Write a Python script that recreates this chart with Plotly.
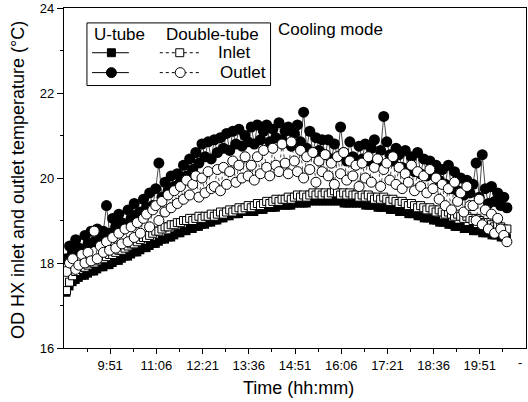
import plotly.graph_objects as go

# Sampling times (minutes after midnight), 5-min interval from 8:40 to 20:35
times = list(range(520, 1240, 5))

u_inlet = [
    17.30, 17.45, 17.55, 17.60, 17.65, 17.70, 17.70, 17.75, 17.80, 17.80, 17.85, 17.90,
    17.90, 17.95, 17.95, 18.00, 18.05, 18.05, 18.10, 18.15, 18.15, 18.20, 18.25, 18.25,
    18.30, 18.35, 18.35, 18.40, 18.45, 18.45, 18.50, 18.55, 18.55, 18.60, 18.60, 18.65,
    18.70, 18.70, 18.75, 18.75, 18.80, 18.80, 18.85, 18.85, 18.90, 18.90, 18.95, 18.95,
    19.00, 19.00, 19.05, 19.05, 19.10, 19.10, 19.15, 19.15, 19.15, 19.20, 19.20, 19.20,
    19.20, 19.20, 19.25, 19.25, 19.25, 19.30, 19.30, 19.30, 19.30, 19.35, 19.35, 19.35,
    19.35, 19.35, 19.40, 19.40, 19.40, 19.40, 19.40, 19.45, 19.45, 19.45, 19.45, 19.45,
    19.45, 19.45, 19.45, 19.45, 19.45, 19.45, 19.40, 19.40, 19.40, 19.40, 19.40, 19.40,
    19.40, 19.35, 19.35, 19.35, 19.35, 19.30, 19.30, 19.30, 19.30, 19.25, 19.25, 19.25,
    19.20, 19.20, 19.20, 19.15, 19.15, 19.15, 19.10, 19.10, 19.05, 19.05, 19.05, 19.00,
    19.00, 18.95, 18.95, 18.95, 18.90, 18.90, 18.85, 18.85, 18.85, 18.80, 18.80, 18.80,
    18.75, 18.75, 18.75, 18.70, 18.70, 18.70, 18.65, 18.65, 18.65, 18.60, 18.60, 18.60,
]

u_outlet = [
    18.10, 18.40, 18.25, 18.55, 18.35, 18.30, 18.65, 18.45, 18.75, 18.50, 18.80, 18.60,
    18.75, 19.35, 18.70, 19.05, 18.85, 19.15, 18.95, 18.90, 19.25, 19.05, 19.40, 19.15,
    19.20, 19.50, 19.30, 19.65, 19.35, 19.75, 20.35, 19.55, 19.90, 19.70, 20.05, 19.80,
    20.10, 19.90, 20.30, 20.05, 20.45, 20.20, 20.60, 20.35, 20.80, 20.50, 20.85, 20.45,
    20.90, 20.60, 20.95, 20.70, 21.05, 20.65, 21.10, 20.80, 21.15, 20.75, 21.00, 20.85,
    21.20, 20.80, 21.25, 20.90, 21.10, 21.25, 20.85, 21.15, 20.95, 21.30, 20.90, 21.10,
    21.20, 20.75, 21.05, 21.25, 20.85, 21.55, 20.70, 21.10, 20.60, 20.95, 20.65, 20.90,
    20.55, 20.90, 20.45, 20.80, 20.50, 21.20, 20.60, 20.40, 20.85, 20.50, 20.35, 20.75,
    20.45, 20.80, 20.40, 20.70, 20.90, 20.35, 20.65, 21.45, 20.85, 20.55, 20.40, 20.70,
    20.55, 20.25, 20.65, 20.20, 20.50, 20.15, 20.60, 20.10, 20.45, 20.05, 20.40, 20.15,
    20.30, 19.95, 20.20, 19.85, 20.30, 19.75, 20.15, 19.70, 20.00, 19.60, 19.95, 19.65,
    19.85, 20.35, 19.55, 20.55, 19.75, 19.40, 19.80, 19.45, 19.65, 19.35, 19.55, 19.30,
]

d_inlet = [
    17.35, 17.55, 17.70, 17.80, 17.85, 17.90, 17.90, 17.95, 18.00, 18.00, 18.05, 18.10,
    18.10, 18.15, 18.20, 18.20, 18.25, 18.30, 18.30, 18.35, 18.40, 18.45, 18.45, 18.50,
    18.55, 18.60, 18.60, 18.65, 18.70, 18.75, 18.75, 18.80, 18.85, 18.85, 18.90, 18.90,
    18.95, 18.95, 19.00, 19.00, 19.05, 19.00, 19.05, 19.10, 19.05, 19.10, 19.10, 19.15,
    19.10, 19.15, 19.20, 19.15, 19.20, 19.25, 19.20, 19.25, 19.30, 19.25, 19.30, 19.35,
    19.30, 19.35, 19.40, 19.35, 19.40, 19.45, 19.40, 19.45, 19.50, 19.45, 19.50, 19.50,
    19.55, 19.50, 19.55, 19.60, 19.55, 19.60, 19.55, 19.60, 19.65, 19.60, 19.65, 19.60,
    19.65, 19.60, 19.65, 19.70, 19.65, 19.60, 19.65, 19.60, 19.65, 19.60, 19.60, 19.55,
    19.60, 19.55, 19.60, 19.55, 19.50, 19.55, 19.50, 19.55, 19.50, 19.45, 19.50, 19.45,
    19.40, 19.45, 19.40, 19.35, 19.40, 19.35, 19.30, 19.35, 19.30, 19.25, 19.30, 19.25,
    19.20, 19.25, 19.20, 19.15, 19.20, 19.15, 19.10, 19.15, 19.10, 19.05, 19.10, 19.05,
    19.00, 19.05, 19.00, 18.95, 18.90, 18.95, 18.90, 18.85, 18.90, 18.85, 18.80, 18.80,
]

d_outlet = [
    17.80, 18.00, 18.10, 17.85, 17.95, 18.20, 18.00, 18.25, 18.05, 18.75, 18.10, 18.40,
    18.25, 18.50, 18.30, 18.60, 18.35, 18.70, 18.45, 18.80, 18.50, 18.85, 18.60, 18.95,
    18.70, 19.05, 19.15, 18.85, 19.25, 19.35, 19.00, 19.45, 19.20, 19.60, 19.30, 19.70,
    19.40, 19.80, 19.50, 19.95, 19.60, 19.85, 20.05, 19.55, 20.00, 19.65, 20.15, 19.75,
    19.80, 20.20, 19.70, 20.25, 19.85, 20.15, 20.40, 19.90, 20.30, 20.00, 20.50, 20.05,
    20.30, 19.95, 20.50, 20.10, 20.65, 20.25, 20.05, 20.70, 20.30, 20.15, 20.80, 20.35,
    20.10, 20.85, 20.40, 20.15, 20.65, 20.00, 20.50, 20.20, 20.60, 19.90, 20.40, 20.15,
    20.55, 20.05, 20.35, 19.85, 20.50, 20.10, 20.60, 19.95, 20.40, 20.05, 20.30, 19.80,
    20.35, 20.00, 20.50, 19.90, 20.25, 20.45, 19.80, 20.20, 20.35, 19.95, 20.50, 19.85,
    20.25, 19.75, 20.10, 19.90, 20.30, 19.70, 20.15, 19.80, 20.05, 19.65, 20.20, 19.75,
    20.00, 19.50, 19.85, 19.35, 19.75, 19.25, 19.90, 19.45, 19.65, 19.20, 19.80, 19.35,
    19.35, 19.00, 19.50, 18.90, 19.25, 18.80, 19.15, 18.70, 19.05, 18.80, 18.65, 18.50,
]

tick_vals = [591, 666, 741, 816, 891, 966, 1041, 1116, 1191]
tick_text = ["9:51", "11:06", "12:21", "13:36", "14:51", "16:06", "17:21", "18:36", "19:51"]
minor_vals = [553.5, 628.5, 703.5, 778.5, 853.5, 928.5, 1003.5, 1078.5, 1153.5, 1228.5]

FONT = "Liberation Sans, Arial, sans-serif"
W, H = 528, 402
L, R, T, B = 64, 1, 6, 54
PW, PH = W - L - R, H - T - B


def px(x):
    return (x - L) / PW


def py(y):
    return (H - B - y) / PH


fig = go.Figure()

fig.add_trace(go.Scatter(
    x=times, y=u_inlet, mode="lines+markers", name="U-tube inlet",
    line=dict(color="black", width=0.7),
    marker=dict(symbol="square", size=8, color="black"),
))
fig.add_trace(go.Scatter(
    x=times, y=u_outlet, mode="lines+markers", name="U-tube outlet",
    line=dict(color="black", width=0.7),
    marker=dict(symbol="circle", size=11, color="black"),
))
fig.add_trace(go.Scatter(
    x=times, y=d_inlet, mode="lines+markers", name="Double-tube inlet",
    line=dict(color="black", width=0.7, dash="dot"),
    marker=dict(symbol="square", size=8, color="white", line=dict(color="black", width=1)),
))
fig.add_trace(go.Scatter(
    x=times, y=d_outlet, mode="lines+markers", name="Double-tube outlet",
    line=dict(color="black", width=0.7, dash="dot"),
    marker=dict(symbol="circle", size=10, color="white", line=dict(color="black", width=1)),
))

shapes = []
# legend box
shapes.append(dict(type="rect", xref="paper", yref="paper",
                   x0=px(87), x1=px(271), y0=py(21), y1=py(84),
                   line=dict(color="black", width=1), fillcolor="white"))
# row 1: inlet
shapes.append(dict(type="line", xref="paper", yref="paper",
                   x0=px(92), x1=px(129), y0=py(51), y1=py(51),
                   line=dict(color="black", width=1)))
shapes.append(dict(type="rect", xref="paper", yref="paper",
                   x0=px(107.5), x1=px(115.5), y0=py(47), y1=py(55),
                   line=dict(color="black", width=1), fillcolor="black"))
shapes.append(dict(type="line", xref="paper", yref="paper",
                   x0=px(160), x1=px(201), y0=py(51), y1=py(51),
                   line=dict(color="black", width=1, dash="dot")))
shapes.append(dict(type="rect", xref="paper", yref="paper",
                   x0=px(176), x1=px(184), y0=py(47), y1=py(55),
                   line=dict(color="black", width=1), fillcolor="white"))
# row 2: outlet
shapes.append(dict(type="line", xref="paper", yref="paper",
                   x0=px(92), x1=px(129), y0=py(71), y1=py(71),
                   line=dict(color="black", width=1)))
shapes.append(dict(type="circle", xref="paper", yref="paper",
                   x0=px(106.5), x1=px(116.5), y0=py(66), y1=py(76),
                   line=dict(color="black", width=1), fillcolor="black"))
shapes.append(dict(type="line", xref="paper", yref="paper",
                   x0=px(160), x1=px(201), y0=py(71), y1=py(71),
                   line=dict(color="black", width=1, dash="dot")))
shapes.append(dict(type="circle", xref="paper", yref="paper",
                   x0=px(175.5), x1=px(185.5), y0=py(66), y1=py(76),
                   line=dict(color="black", width=1), fillcolor="white"))

annotations = []


def txt(text, x, y, size=18, angle=0):
    annotations.append(dict(text=text, xref="paper", yref="paper",
                            x=px(x), y=py(y), xanchor="center", yanchor="middle",
                            showarrow=False, textangle=angle,
                            font=dict(family=FONT, size=size, color="black")))


txt("U-tube", 120, 33, 17)
txt("Double-tube", 213, 33, 17)
txt("Inlet", 234, 51, 17)
txt("Outlet", 243, 71, 17)
txt("Cooling mode", 331, 28, 17)
txt("Time (hh:mm)", 299, 388, 18)
txt("OD HX inlet and outlet temperature (°C)", 18, 179, 18, -90)
txt("-", 521, 363, 13)

fig.update_layout(
    width=W, height=H,
    margin=dict(l=L, r=R, t=T, b=B),
    paper_bgcolor="white", plot_bgcolor="white",
    showlegend=False,
    font=dict(family=FONT, size=13, color="black"),
    shapes=shapes, annotations=annotations,
    xaxis=dict(
        range=[516, 1266], tickmode="array", tickvals=tick_vals, ticktext=tick_text,
        ticks="outside", ticklen=5, tickwidth=1, tickcolor="black",
        showline=True, linecolor="black", linewidth=1.2, mirror=True,
        showgrid=False, zeroline=False, ticklabeloverflow="allow",
        tickfont=dict(family=FONT, size=13),
        minor=dict(tickmode="array", tickvals=minor_vals, ticks="outside",
                   ticklen=3, tickwidth=1, tickcolor="black", showgrid=False),
    ),
    yaxis=dict(
        range=[16, 24], tickmode="array", tickvals=[16, 18, 20, 22, 24],
        ticks="outside", ticklen=6, tickwidth=1, tickcolor="black",
        showline=True, linecolor="black", linewidth=1.2, mirror=True,
        showgrid=False, zeroline=False, ticklabeloverflow="allow",
        tickfont=dict(family=FONT, size=13),
        minor=dict(tickmode="array", tickvals=[17, 19, 21, 23], ticks="outside",
                   ticklen=3, tickwidth=1, tickcolor="black", showgrid=False),
    ),
)

fig.write_html(
    "out.html",
    config={"displayModeBar": False},
    post_script="document.body.style.margin='0px';document.body.style.overflow='hidden';",
)
